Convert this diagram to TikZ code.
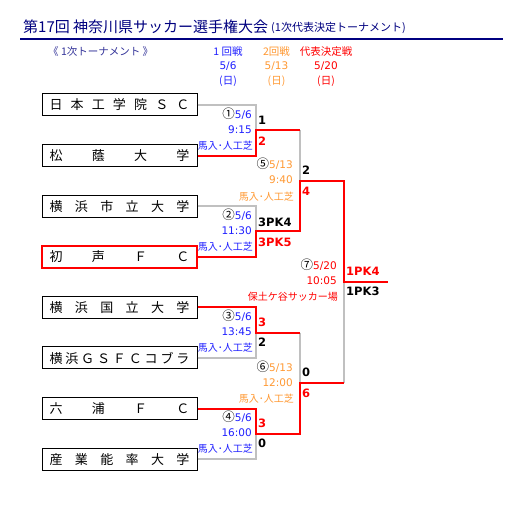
\documentclass[tikz,border=0pt]{standalone}
\usepackage{fontspec}
\setmainfont{Noto Sans CJK JP}
\newfontfamily\jp{Noto Sans CJK JP}
\newfontfamily\dv{DejaVu Sans}
\definecolor{navy}{HTML}{000080}
\definecolor{tblue}{HTML}{2020FF}
\definecolor{hblue}{HTML}{333399}
\definecolor{torange}{HTML}{FF9933}
\definecolor{tred}{HTML}{FF0000}
\definecolor{lgray}{HTML}{C0C0C0}
\newcommand{\circnum}[1]{{\jp\fontsize{12.5}{12}\selectfont\color{black}#1}}
\begin{document}
\begin{tikzpicture}[x=1pt,y=-1pt,
  teambox/.style={draw=black, line width=1pt, minimum width=155pt, minimum height=22pt, inner sep=0pt, font=\fontsize{13}{15}\selectfont},
  winbox/.style={teambox, draw=tred, line width=2pt},
  gline/.style={draw=lgray, line width=2pt},
  rline/.style={draw=tred, line width=2pt},
  lab/.style={anchor=east, inner sep=0pt, font=\fontsize{10}{12}\selectfont},
  num/.style={anchor=east, inner sep=0pt, font=\dv\fontsize{10.5}{12}\selectfont},
  score/.style={anchor=west, inner sep=0pt, font=\dv\bfseries\fontsize{11.5}{13}\selectfont},
  hd/.style={inner sep=0pt, font=\fontsize{10.5}{12}\selectfont},
  hdn/.style={inner sep=0pt, font=\dv\fontsize{10.5}{12}\selectfont}
]
\fill[white] (0,0) rectangle (528,513);
\useasboundingbox (0,0) rectangle (528,513);

% title
\node[anchor=west, inner sep=0pt, text=navy, font=\fontsize{15}{17}\selectfont] (title) at (23,27) {第17回 神奈川県サッカー選手権大会};
\node[anchor=west, inner sep=0pt, text=navy, font=\fontsize{11}{13}\selectfont] (subtitle) at (271,28) {(1次代表決定トーナメント)};
\coordinate (rl) at (20,39.5);
\coordinate (rr) at (503,39.5);
\draw[navy, line width=2pt] (rl) -- (rr);

% header
\node[hd, text=hblue, anchor=west] (tour) at (48,52) {《 1次トーナメント 》};
\node[hd, text=tblue] (h1a) at (228,52) {1 回戦};
\node[hdn, text=tblue] (h1b) at (228,66.5) {5/6};
\node[hd, text=tblue] (h1c) at (228,81) {(日)};
\node[hd, text=torange] (h2a) at (276.5,52) {2回戦};
\node[hdn, text=torange] (h2b) at (276.5,66.5) {5/13};
\node[hd, text=torange] (h2c) at (276.5,81) {(日)};
\node[hd, text=tred] (h3a) at (326,52) {代表決定戦};
\node[hdn, text=tred] (h3b) at (326,66.5) {5/20};
\node[hd, text=tred] (h3c) at (326,81) {(日)};

% teams
\node[teambox] (t1) at (119.5,105) {\makebox[140pt]{日\hfill 本\hfill 工\hfill 学\hfill 院\hfill Ｓ\hfill Ｃ}};
\node[teambox] (t2) at (119.5,155.6) {\makebox[140pt]{松\hfill 蔭\hfill 大\hfill 学}};
\node[teambox] (t3) at (119.5,206.2) {\makebox[140pt]{横\hfill 浜\hfill 市\hfill 立\hfill 大\hfill 学}};
\node[winbox] (t4) at (119.5,256.8) {\makebox[140pt]{初\hfill 声\hfill Ｆ\hfill Ｃ}};
\node[teambox] (t5) at (119.5,307.4) {\makebox[140pt]{横\hfill 浜\hfill 国\hfill 立\hfill 大\hfill 学}};
\node[teambox] (t6) at (119.5,358.0) {\makebox[140pt]{横\hfill 浜\hfill Ｇ\hfill Ｓ\hfill Ｆ\hfill Ｃ\hfill コ\hfill ブ\hfill ラ}};
\node[teambox] (t7) at (119.5,408.6) {\makebox[140pt]{六\hfill 浦\hfill Ｆ\hfill Ｃ}};
\node[teambox] (t8) at (119.5,459.2) {\makebox[140pt]{産\hfill 業\hfill 能\hfill 率\hfill 大\hfill 学}};

% bracket points
\coordinate (m1) at (256,130.3);
\coordinate (m2) at (256,231.5);
\coordinate (m3) at (256,332.7);
\coordinate (m4) at (256,433.9);
\coordinate (m5) at (300,180.9);
\coordinate (m6) at (300,383.3);
\coordinate (m7) at (344,282.1);
\coordinate (champ) at (388,282.1);

% gray (losers)
\draw[gline] (t1.east) -| (m1);
\draw[gline] (t3.east) -| (m2);
\draw[gline] (t6.east) -| (m3);
\draw[gline] (t8.east) -| (m4);
\draw[gline] (m1 -| m5) -- (m5);
\draw[gline] (m3 -| m6) -- (m6);
\draw[gline] (m6 -| m7) -- (m7);

% red (winners)
\draw[rline] (t2.east) -| (m1) -- (m1 -| m5);
\draw[rline] (t4.east) -| (m2) -- (m2 -| m5) -- (m5) -- (m5 -| m7) -- (m7) -- (champ);
\draw[rline] (t5.east) -| (m3) -- (m3 -| m6);
\draw[rline] (t7.east) -| (m4) -- (m4 -| m6) -- (m6) -- (m6 -| m7);

% match labels round 1
\node[num, text=tblue] (l1a) at (252,114) {\circnum{①}5/6};
\node[num, text=tblue] (l1b) at (252,130) {9:15};
\node[lab, text=tblue] (l1c) at (253,145.5) {馬入･人工芝};
\node[num, text=tblue] (l2a) at (252,215) {\circnum{②}5/6};
\node[num, text=tblue] (l2b) at (252,231) {11:30};
\node[lab, text=tblue] (l2c) at (253,246.5) {馬入･人工芝};
\node[num, text=tblue] (l3a) at (252,316) {\circnum{③}5/6};
\node[num, text=tblue] (l3b) at (252,332) {13:45};
\node[lab, text=tblue] (l3c) at (253,347.5) {馬入･人工芝};
\node[num, text=tblue] (l4a) at (252,417) {\circnum{④}5/6};
\node[num, text=tblue] (l4b) at (252,433) {16:00};
\node[lab, text=tblue] (l4c) at (253,448.5) {馬入･人工芝};

% round 2
\node[num, text=torange] (l5a) at (293,164) {\circnum{⑤}5/13};
\node[num, text=torange] (l5b) at (293,180) {9:40};
\node[lab, text=torange] (l5c) at (294,196.5) {馬入･人工芝};
\node[num, text=torange] (l6a) at (293,367) {\circnum{⑥}5/13};
\node[num, text=torange] (l6b) at (293,383) {12:00};
\node[lab, text=torange] (l6c) at (294,398.5) {馬入･人工芝};

% final
\node[num, text=tred] (l7a) at (337,264.5) {\circnum{⑦}5/20};
\node[num, text=tred] (l7b) at (337,281) {10:05};
\node[lab, text=tred] (l7c) at (338,296.5) {保土ケ谷サッカー場};

% scores
\node[score] (s1a) at (258,120) {1};
\node[score, text=tred] (s1b) at (258,141) {2};
\node[score] (s2a) at (258,222) {3PK4};
\node[score, text=tred] (s2b) at (258,242) {3PK5};
\node[score, text=tred] (s3a) at (258,322) {3};
\node[score] (s3b) at (258,342.5) {2};
\node[score, text=tred] (s4a) at (258,423) {3};
\node[score] (s4b) at (258,443.5) {0};
\node[score] (s5a) at (302,170.5) {2};
\node[score, text=tred] (s5b) at (302,191) {4};
\node[score] (s6a) at (302,372) {0};
\node[score, text=tred] (s6b) at (302,393) {6};
\node[score, text=tred] (s7a) at (346,271.5) {1PK4};
\node[score] (s7b) at (346,291.5) {1PK3};
\end{tikzpicture}
\end{document}
